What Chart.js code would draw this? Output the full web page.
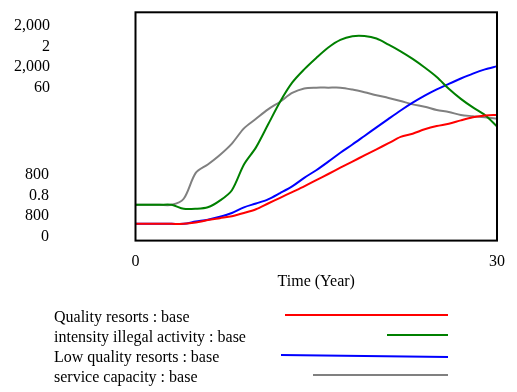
<!DOCTYPE html>
<html>
<head>
<meta charset="utf-8">
<script src="https://cdn.jsdelivr.net/npm/chart.js@4/dist/chart.umd.min.js"></script>
<style>
  html, body { margin: 0; padding: 0; background: #fff; }
  #wrap { width: 517px; height: 392px; }
</style>
</head>
<body>
<div id="wrap"><canvas id="chart" width="517" height="392"></canvas></div>
<script>
// time axis, years
const years = [0,1,2,3,4,5,6,7,8,9,10,11,12,13,14,15,16,17,18,19,20,21,22,23,24,25,26,27,28,29,30];

const qualityResorts = [888,888,888,888,888,895,908,918,928,945,965,995,1025,1055,1085,1118,1150,1183,1215,1248,1280,1312,1345,1362,1385,1402,1414,1432,1448,1458,1460];
const illegalActivity = [0.988,0.988,0.988,0.988,0.967,0.967,0.975,1.01,1.065,1.2,1.29,1.41,1.53,1.63,1.7,1.76,1.815,1.855,1.874,1.875,1.862,1.83,1.795,1.755,1.71,1.66,1.598,1.545,1.5,1.46,1.4];
const lowQualityResorts = [888,888,888,888,888,900,910,925,945,975,995,1017,1050,1085,1130,1170,1215,1262,1305,1350,1395,1440,1484,1525,1562,1595,1624,1652,1678,1700,1716];
const serviceCapacity = [9.4,9.4,9.4,9.4,11,17.8,20,22.5,25.5,29.5,32,34.5,36.5,38.8,40,40.2,40.2,40.2,39.7,39,38.2,37.5,36.7,35.8,35.2,34.3,33.8,33,32.7,32.4,32];

const seriesNames = ["Quality resorts : base", "intensity illegal activity : base", "Low quality resorts : base", "service capacity : base"];
const seriesColors = ["#ff0000", "#008000", "#0000ff", "#808080"];

// per-series scale ranges (Vensim style stacked labels)
const scaleMin = [800, 0.8, 800, 0];
const scaleMax = [2000, 2, 2000, 60];
const topLabels = ["2,000", "2", "2,000", "60"];
const bottomLabels = ["800", "0.8", "800", "0"];

const serif = "'Liberation Serif', 'Times New Roman', serif";

function pts(vals) {
  return years.map((t, i) => ({ x: t, y: vals[i] }));
}

const allValues = [qualityResorts, illegalActivity, lowQualityResorts, serviceCapacity];
const axisIds = ["y0", "y1", "y2", "y3"];

const scales = {
  x: {
    type: "linear",
    min: 0,
    max: 30,
    grid: { display: false, drawTicks: false },
    border: { display: false },
    ticks: {
      stepSize: 30,
      padding: 12,
      color: "#000",
      font: { family: serif, size: 16 },
      maxRotation: 0
    },
    title: {
      display: true,
      text: "Time (Year)",
      color: "#000",
      font: { family: serif, size: 16 },
      padding: { top: -11.4, bottom: 0 }
    }
  }
};
axisIds.forEach((id, i) => {
  scales[id] = { type: "linear", display: false, min: scaleMin[i], max: scaleMax[i] };
});

const frame = {
  id: "frame",
  afterDatasetsDraw(chart) {
    const a = chart.chartArea;
    const ctx = chart.ctx;
    ctx.save();
    ctx.strokeStyle = "#000";
    ctx.lineWidth = 2;
    ctx.strokeRect(a.left, a.top, a.right - a.left, a.bottom - a.top);
    ctx.restore();
  },
  afterDraw(chart) {
    const ctx = chart.ctx;
    ctx.save();
    ctx.fillStyle = "#000";
    ctx.font = "16px " + serif;
    ctx.textBaseline = "middle";
    ctx.textAlign = "right";
    const topY = [26, 47, 67, 88];
    const botY = [175, 196, 216, 237];
    topLabels.forEach((l, i) => ctx.fillText(l, 50, topY[i]));
    bottomLabels.forEach((l, i) => ctx.fillText(l, 49, botY[i]));

    // legend
    ctx.textAlign = "left";
    const rowY = [318, 338, 358, 378];
    const lineX = [285, 387, 281, 313];
    seriesNames.forEach((n, i) => {
      ctx.fillText(n, 54, rowY[i]);
      ctx.strokeStyle = seriesColors[i];
      ctx.lineWidth = 2;
      ctx.beginPath();
      ctx.moveTo(lineX[i], rowY[i] - 3);
      ctx.lineTo(448, rowY[i] - 3 + (i === 2 ? 2 : 0));
      ctx.stroke();
    });
    ctx.restore();
  }
};

new Chart(document.getElementById("chart"), {
  type: "line",
  data: {
    datasets: allValues.map((v, i) => ({
      label: seriesNames[i],
      data: pts(v),
      yAxisID: axisIds[i],
      borderColor: seriesColors[i],
      borderWidth: 2,
      pointRadius: 0,
      tension: 0.3,
      fill: false
    }))
  },
  options: {
    responsive: false,
    animation: false,
    layout: { padding: { left: 135.5, right: 15.3, top: 12.3, bottom: 100.4 } },
    plugins: { legend: { display: false }, tooltip: { enabled: false } },
    scales: scales
  },
  plugins: [frame]
});
</script>
</body>
</html>
